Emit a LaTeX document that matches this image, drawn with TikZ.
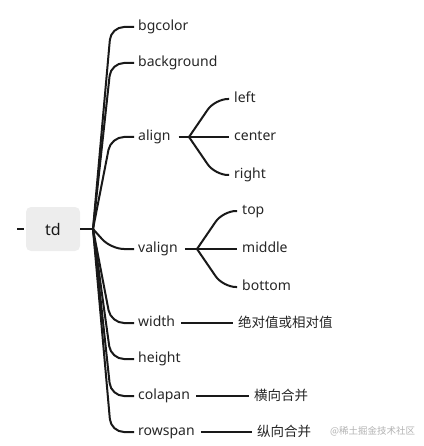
\documentclass[tikz,border=0pt]{standalone}
\usepackage{fontspec}
\setmainfont{Noto Sans}
\newfontfamily\cjk{Noto Sans CJK SC}
\begin{document}
\begin{tikzpicture}[x=1pt,y=-1pt,
  lbl/.style={anchor=west,inner sep=0pt,text height=10.5pt,text depth=3pt,text=black!85,font=\fontsize{14}{16}\selectfont},
  cjklbl/.style={anchor=west,inner sep=0pt,text height=11pt,text depth=2.5pt,text=black!85,font=\cjk\fontsize{13.5}{16}\selectfont},
  rootbox/.style={fill=black!7,rounded corners=5pt,minimum width=54pt,minimum height=44pt,inner sep=0pt,text=black!90,font=\fontsize{16}{18}\selectfont\bfseries},
  branch/.style={line width=2pt,draw=black!90,rounded corners=13pt},
  link/.style={line width=2pt,draw=black!90}]
\useasboundingbox (0,0) rectangle (423,446);
% root
\node[rootbox] (td) at (53,229) {td};
\coordinate (l0) at (17,229);
\coordinate (l1) at (24,229);
\draw[link] (l0) -- (l1);
\coordinate (hub) at (93,229);
\draw[link] (td.east) -- (hub);
% first level
\node[lbl] (bgcolor) at (138,27) {bgcolor};
\node[lbl] (background) at (138,63) {background};
\node[lbl] (align) at (138,137) {align};
\node[lbl] (valign) at (138,249) {valign};
\node[lbl] (width) at (138,323) {width};
\node[lbl] (height) at (138,359) {height};
\node[lbl] (colapan) at (138,396) {colapan};
\node[lbl] (rowspan) at (138,432) {rowspan};
\foreach \n/\y in {bgcolor/27,background/63,align/137,valign/249,width/323,height/359,colapan/396,rowspan/432}{
  \draw[branch] (hub) -- (111,\y) -- ([xshift=-4pt]\n.west);
}
% align children
\coordinate (ahub) at (189,137);
\draw[link] ([xshift=8pt]align.east) -- (ahub);
\node[lbl] (left) at (234,99) {left};
\node[lbl] (center) at (234,137) {center};
\node[lbl] (right) at (234,175) {right};
\foreach \n/\y in {left/99,right/175}{
  \draw[branch] (ahub) -- (215,\y) -- ([xshift=-5pt]\n.west);
}
\draw[link] (ahub) -- ([xshift=-5pt]center.west);
% valign children
\coordinate (vhub) at (197,249);
\draw[link] ([xshift=7pt]valign.east) -- (vhub);
\node[lbl] (top) at (242,211) {top};
\node[lbl] (middle) at (242,249) {middle};
\node[lbl] (bottom) at (242,287) {bottom};
\foreach \n/\y in {top/211,bottom/287}{
  \draw[branch] (vhub) -- (223,\y) -- ([xshift=-5pt]\n.west);
}
\draw[link] (vhub) -- ([xshift=-5pt]middle.west);
% leaf texts
\node[cjklbl] (w1) at (238,323) {绝对值或相对值};
\draw[link] ([xshift=6pt]width.east) -- ([xshift=-5pt]w1.west);
\node[cjklbl] (c1) at (254,396) {横向合并};
\draw[link] ([xshift=6pt]colapan.east) -- ([xshift=-5pt]c1.west);
\node[cjklbl] (r1) at (257,432) {纵向合并};
\draw[link] ([xshift=6pt]rowspan.east) -- ([xshift=-5pt]r1.west);
% watermark
\node[anchor=west,inner sep=0pt,text=black!30,font=\cjk\fontsize{9.5}{11}\selectfont] (wm) at (330,431) {@稀土掘金技术社区};
\end{tikzpicture}
\end{document}
